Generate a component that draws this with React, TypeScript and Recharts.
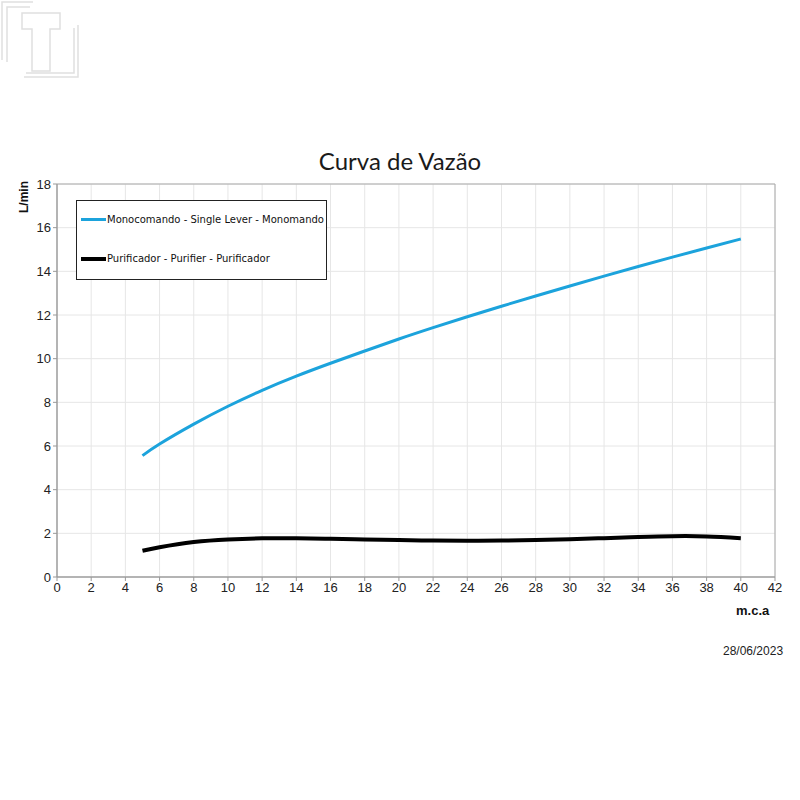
import React from "react";
import {
  LineChart,
  Line,
  XAxis,
  YAxis,
  CartesianGrid,
  ReferenceArea,
} from "recharts";

const pressures = [5, 6, 8, 10, 12, 14, 16, 18, 20, 22, 24, 26, 28, 30, 32, 34, 36, 38, 40];
const monocomando = [5.56, 6.09, 7.0, 7.82, 8.55, 9.2, 9.79, 10.35, 10.9, 11.42, 11.92, 12.4, 12.87, 13.33, 13.78, 14.22, 14.65, 15.07, 15.48];
const purificador = [1.2, 1.36, 1.6, 1.72, 1.77, 1.77, 1.75, 1.72, 1.69, 1.67, 1.66, 1.67, 1.69, 1.73, 1.78, 1.83, 1.87, 1.86, 1.78];
const xTicks = [0, 2, 4, 6, 8, 10, 12, 14, 16, 18, 20, 22, 24, 26, 28, 30, 32, 34, 36, 38, 40, 42];
const yTicks = [0, 2, 4, 6, 8, 10, 12, 14, 16, 18];
const seriesNames = ["Monocomando - Single Lever - Monomando", "Purificador - Purifier - Purificador"];
const seriesColors = ["#1ca3dc", "#000000"];

const data = pressures.map((p, i) => ({ x: p, mono: monocomando[i], puri: purificador[i] }));

const LegendBox = () => (
  <div
    style={{
      position: "absolute",
      left: 76,
      top: 200,
      width: 251,
      height: 80,
      boxSizing: "border-box",
      border: "1px solid #222",
      background: "#fff",
      fontFamily: "DejaVu Sans, sans-serif",
      fontSize: 10,
      color: "#111",
    }}
  >
    {seriesNames.map((n, i) => (
      <div
        key={n}
        style={{
          position: "absolute",
          left: 4,
          top: i === 0 ? 13 : 52,
          display: "flex",
          alignItems: "center",
          whiteSpace: "nowrap",
        }}
      >
        <span
          style={{
            display: "inline-block",
            width: 25,
            height: i === 0 ? 3 : 4,
            background: seriesColors[i],
            marginRight: 1,
          }}
        />
        {n}
      </div>
    ))}
  </div>
);

const Logo = () => (
  <svg width={90} height={85} style={{ position: "absolute", left: 0, top: 0 }}>
    <g fill="none" stroke="#e0e0e0" strokeWidth={1.5}>
      <polyline points="2,60 2,2 33,2" />
      <polyline points="7,62 7,7 30,7" />
      <polyline points="24,77 78,77 78,25" />
      <polyline points="26,73 74,73 74,28" />
      <polygon points="22,13 60,13 60,29 50,29 50,71 32,71 32,29 22,29" />
    </g>
  </svg>
);

export default function App() {
  return (
    <div style={{ position: "absolute", left: 0, top: 0, width: 800, height: 800, background: "#fff" }}>
      <Logo />
      <div
        style={{
          position: "absolute",
          left: 0,
          width: 800,
          top: 146,
          textAlign: "center",
          fontFamily: "Lato, sans-serif",
          fontSize: 24,
          color: "#1a1a1a",
        }}
      >
        Curva de Vazão
      </div>
      <div
        style={{
          position: "absolute",
          left: 4,
          top: 190,
          width: 40,
          textAlign: "center",
          transform: "rotate(-90deg)",
          fontFamily: "Liberation Sans, Arial, sans-serif",
          fontWeight: "bold",
          fontSize: 12,
          color: "#111",
        }}
      >
        L/min
      </div>
      <div
        style={{
          position: "absolute",
          left: 736,
          top: 603,
          fontFamily: "Liberation Sans, Arial, sans-serif",
          fontWeight: "bold",
          fontSize: 13,
          color: "#111",
        }}
      >
        m.c.a
      </div>
      <div
        style={{
          position: "absolute",
          left: 723,
          top: 644,
          fontFamily: "Liberation Sans, Arial, sans-serif",
          fontSize: 12,
          color: "#222",
        }}
      >
        28/06/2023
      </div>
      <div style={{ position: "absolute", left: 0, top: 0 }}>
        <LineChart
          width={800}
          height={800}
          data={data}
          margin={{ top: 184, right: 25, bottom: 193, left: 0 }}
        >
          <CartesianGrid stroke="#e6e6e6" strokeWidth={1} />
          <XAxis
            type="number"
            dataKey="x"
            domain={[0, 42]}
            ticks={xTicks}
            interval={0}
            height={30}
            tickSize={4}
            axisLine={{ stroke: "#999" }}
            tickLine={{ stroke: "#999" }}
            tick={{ fill: "#222", fontSize: 13, fontFamily: "Liberation Sans, Arial, sans-serif" }}
          />
          <YAxis
            type="number"
            domain={[0, 18]}
            ticks={yTicks}
            interval={0}
            width={57}
            tickSize={4}
            axisLine={{ stroke: "#999" }}
            tickLine={{ stroke: "#999" }}
            tick={{ fill: "#222", fontSize: 13, fontFamily: "Liberation Sans, Arial, sans-serif" }}
          />
          <ReferenceArea x1={0} x2={42} y1={0} y2={18} fill="none" stroke="#aaa" strokeWidth={1} ifOverflow="visible" />
          <Line
            type="natural"
            dataKey="mono"
            name={seriesNames[0]}
            stroke={seriesColors[0]}
            strokeWidth={3}
            dot={false}
            isAnimationActive={false}
          />
          <Line
            type="natural"
            dataKey="puri"
            name={seriesNames[1]}
            stroke={seriesColors[1]}
            strokeWidth={4}
            dot={false}
            isAnimationActive={false}
          />
        </LineChart>
      </div>
      <LegendBox />
    </div>
  );
}
